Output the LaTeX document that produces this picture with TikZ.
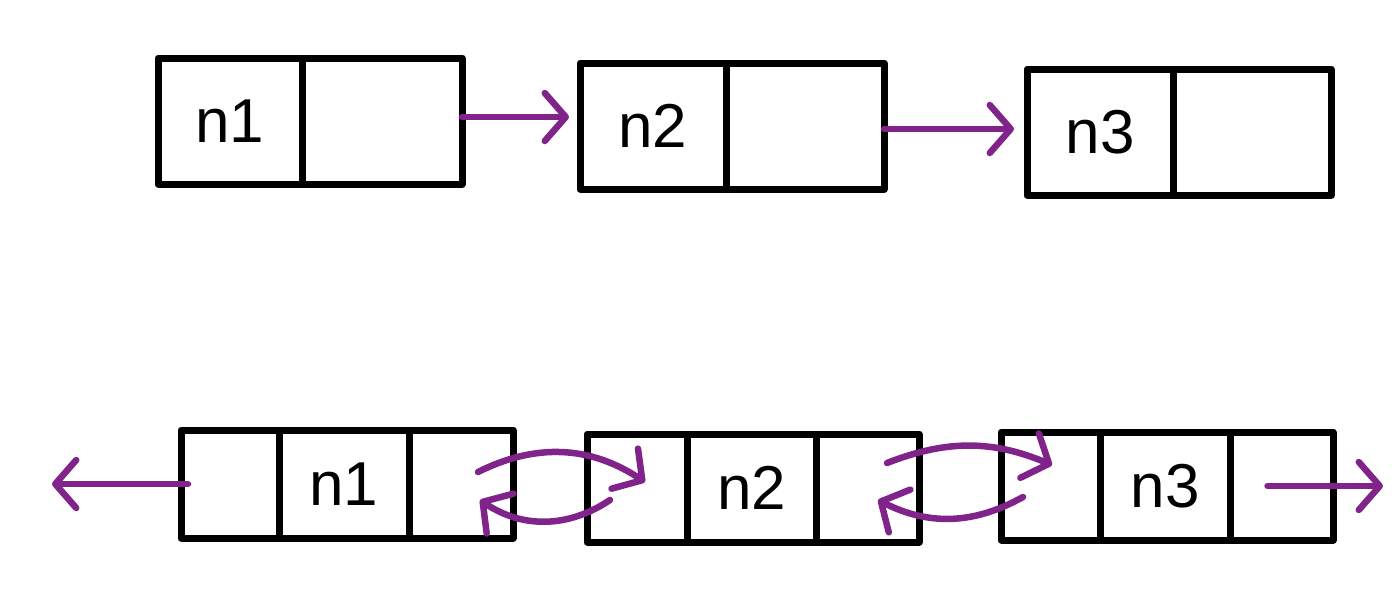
\documentclass[tikz,border=0pt]{standalone}
\usepackage{fontspec}
\setmainfont{Liberation Sans}
\usetikzlibrary{arrows.meta}
\definecolor{linkpurple}{RGB}{128,36,140}
\tikzset{
  cell/.style={draw=black, line width=7pt, line join=round, minimum height=#1, inner sep=0pt, outer sep=0pt, font=\fontsize{62}{62}\selectfont},
  cell/.default=126pt,
  arr/.style={draw=linkpurple, line width=6.5pt, line cap=round, -{Straight Barb[length=21pt,width=48pt,round]}},
}
\begin{document}
\begin{tikzpicture}[x=1pt,y=-1pt]
\useasboundingbox[fill=white] (0,0) rectangle (1400,613);
% top row
\node[cell, minimum width=144pt] (t1a) at (230,121) {n1};
\node[cell, minimum width=160pt] (t1b) at (382,121) {};
\node[cell, minimum width=146pt] (t2a) at (653,126) {n2};
\node[cell, minimum width=158pt] (t2b) at (805,126) {};
\node[cell, minimum width=146pt] (t3a) at (1100,132) {n3};
\node[cell, minimum width=158pt] (t3b) at (1252,132) {};
\draw[arr, shorten >=11pt] ([yshift=4pt]t1b.east) -- ([yshift=4pt]t1b.east -| t2a.west);
\draw[arr, shorten >=13pt] ([yshift=-3pt]t2b.east) -- ([yshift=-3pt]t2b.east -| t3a.west);
% bottom row
\node[cell=108pt, minimum width=98pt]  (a1) at (230,484) {};
\node[cell=108pt, minimum width=130pt] (a2) at (344,484) {n1};
\node[cell=108pt, minimum width=104pt] (a3) at (461,484) {};
\node[cell=108pt, minimum width=100pt] (b1) at (637,488) {};
\node[cell=108pt, minimum width=129pt] (b2) at (751.5,488) {n2};
\node[cell=108pt, minimum width=103pt] (b3) at (867.5,488) {};
\node[cell=108pt, minimum width=99pt]  (c1) at (1050.5,486) {};
\node[cell=108pt, minimum width=130pt] (c2) at (1165,486) {n3};
\node[cell=108pt, minimum width=103pt] (c3) at (1281.5,486) {};
\coordinate (lend) at (52,484);
\coordinate (rend) at (1383,486);
\draw[arr, shorten <=-7pt] (a1.west) -- (lend);
\draw[arr] ([xshift=-14pt]c3.center) -- (rend);
\coordinate (ab1) at (478,472);
\coordinate (ab2) at (645,482);
\coordinate (ab3) at (610,500);
\coordinate (ab4) at (480,500);
\draw[arr] (ab1) to[bend left=30] (ab2);
\draw[arr] (ab3) to[bend left=34] (ab4);
\coordinate (bc1) at (887,463);
\coordinate (bc2) at (1052,465);
\coordinate (bc3) at (1023,497);
\coordinate (bc4) at (878,500);
\draw[arr] (bc1) to[bend left=22] (bc2);
\draw[arr] (bc3) to[bend left=28] (bc4);
\end{tikzpicture}
\end{document}
